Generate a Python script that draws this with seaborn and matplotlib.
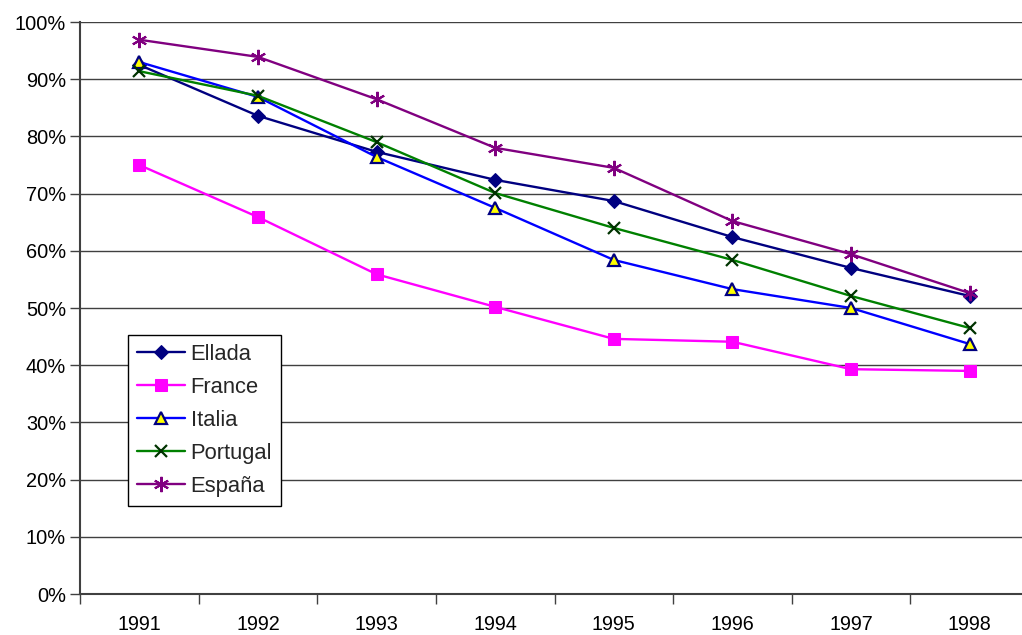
import matplotlib
matplotlib.use("Agg")
import matplotlib.pyplot as plt
import seaborn as sns
import numpy as np
from matplotlib.ticker import PercentFormatter

years = ["1991", "1992", "1993", "1994", "1995", "1996", "1997", "1998"]
ellada = [0.925, 0.836, 0.773, 0.724, 0.687, 0.624, 0.570, 0.521]
france = [0.750, 0.659, 0.559, 0.502, 0.446, 0.441, 0.393, 0.390]
italia = [0.930, 0.869, 0.764, 0.675, 0.584, 0.533, 0.500, 0.437]
portugal = [0.914, 0.871, 0.790, 0.701, 0.640, 0.584, 0.521, 0.465]
espana = [0.969, 0.939, 0.865, 0.780, 0.745, 0.652, 0.594, 0.526]

sns.set_theme(style="white")
plt.rcParams['font.family'] = ['Liberation Sans', 'DejaVu Sans']

fig = plt.figure(figsize=(10.22, 6.35), dpi=100)
ax = fig.add_axes([80/1022, 41/635, 949/1022, 572/635])

x = np.arange(len(years))
series = [
    ("Ellada", ellada, dict(color="#000080", marker="D", markersize=7, markerfacecolor="#000080", markeredgecolor="#000080")),
    ("France", france, dict(color="#FF00FF", marker="s", markersize=9, markerfacecolor="#FF00FF", markeredgecolor="#FF00FF")),
    ("Italia", italia, dict(color="#0000FF", marker="^", markersize=9, markerfacecolor="#FFFF00", markeredgecolor="#000080", markeredgewidth=1.6)),
    ("Portugal", portugal, dict(color="#008000", marker="x", markersize=9, markeredgecolor="#003300", markeredgewidth=1.6)),
    ("España", espana, dict(color="#800080", marker=(6, 2, 0), markersize=11, markeredgecolor="#800080", markeredgewidth=1.5)),
]
for name, vals, kw in series:
    sns.lineplot(x=x, y=vals, ax=ax, label=name, linewidth=1.7, **kw)

ax.set_xlim(-0.5, len(years) - 0.5)
ax.set_ylim(0, 1.0)
ax.set_yticks(np.arange(0, 1.01, 0.1))
ax.yaxis.set_major_formatter(PercentFormatter(1.0, decimals=0))
ax.set_xticks(x)
ax.set_xticklabels(years)
ax.set_xticks(np.arange(-0.5, len(years), 1.0), minor=True)
ax.tick_params(axis='x', which='major', length=0, pad=15, labelsize=14.2, colors='black')
ax.tick_params(axis='x', which='minor', length=7, width=1, color='#404040', direction='out', bottom=True)
ax.tick_params(axis='y', which='major', length=7, width=1, color='#404040', direction='out', left=True, labelsize=14.4, pad=3, labelcolor='black')
ax.grid(axis='y', color='#404040', linewidth=1.0)
ax.set_axisbelow(True)
for s in ['top', 'right']:
    ax.spines[s].set_visible(False)
for s in ['left', 'bottom']:
    ax.spines[s].set_color('#404040')
    ax.spines[s].set_linewidth(1.5)
ax.set_xlabel("")
ax.set_ylabel("")

leg = ax.legend(loc='lower left', bbox_to_anchor=(0.0506, 0.154), borderaxespad=0,
                fontsize=15.8, frameon=True, fancybox=False, handlelength=2.2,
                labelspacing=0.55, borderpad=0.4, handletextpad=0.25)
leg.get_frame().set_edgecolor('black')
leg.get_frame().set_linewidth(1.0)
leg.get_frame().set_alpha(1.0)

fig.savefig("out.png", dpi=100)
